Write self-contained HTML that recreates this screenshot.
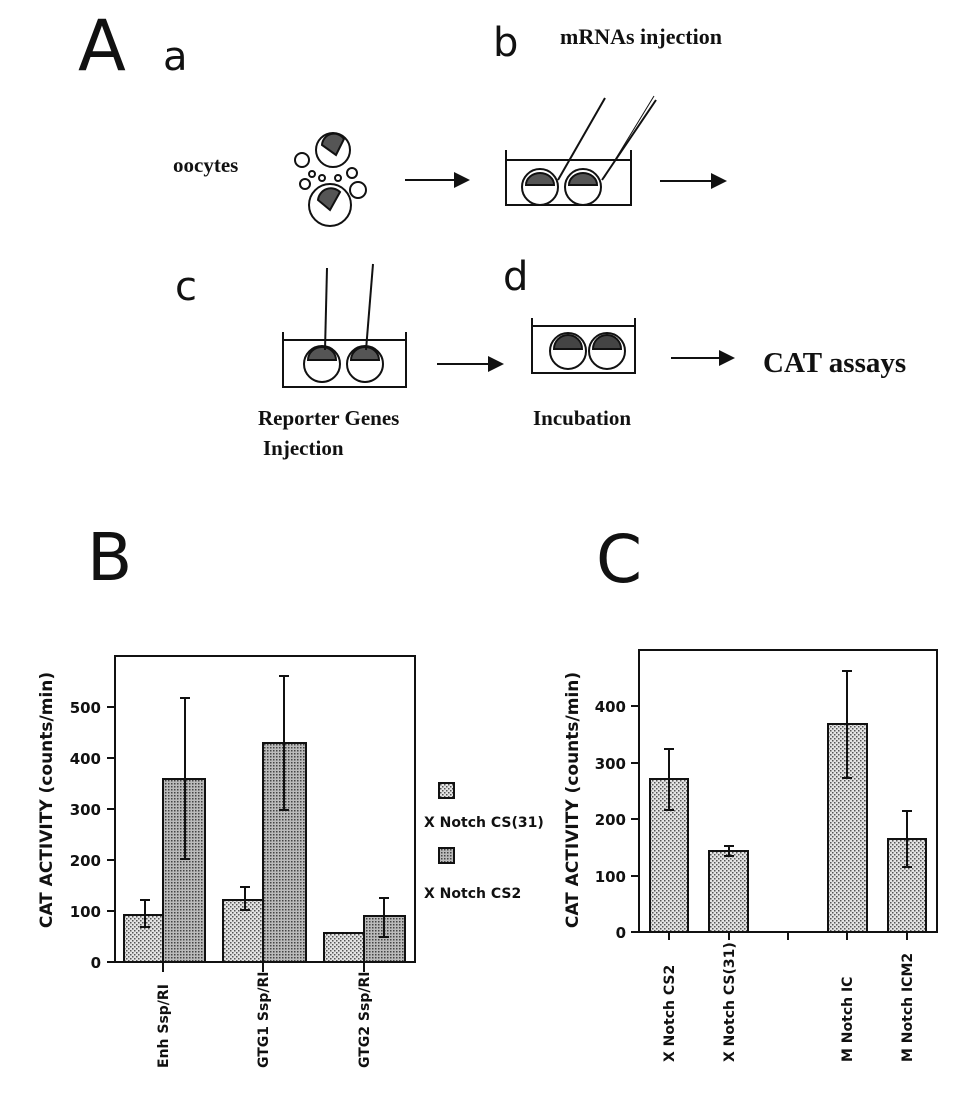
<!DOCTYPE html>
<html><head><meta charset="utf-8"><style>
html,body{margin:0;padding:0;background:#fff}
svg{display:block}
.s{font-family:"Liberation Serif",serif;font-weight:bold}
.l{font-family:"DejaVu Sans","Liberation Sans",sans-serif}
</style></head><body>
<svg width="961" height="1120" viewBox="0 0 961 1120" xmlns="http://www.w3.org/2000/svg">
<defs>
<pattern id="p1" width="4" height="4" patternUnits="userSpaceOnUse"><rect width="4" height="4" fill="#e4e4e4"/><rect x="0" y="0" width="1.5" height="1.5" fill="#555"/><rect x="2" y="2" width="1.5" height="1.5" fill="#555"/></pattern>
<pattern id="p2" width="3" height="3" patternUnits="userSpaceOnUse"><rect width="3" height="3" fill="#bbb"/><rect x="0" y="0" width="1.5" height="1.5" fill="#444"/></pattern>
<marker id="ar" markerWidth="8" markerHeight="8" refX="7" refY="4" orient="auto"><path d="M0,0 L8,4 L0,8z" fill="#111"/></marker>
</defs>
<g fill="#111">
<text x="78" y="70" class="l" font-size="70">A</text>
<text x="163" y="70" class="l" font-size="40">a</text>
<text x="493" y="56" class="l" font-size="40">b</text>
<text x="175" y="300" class="l" font-size="40">c</text>
<text x="503" y="290" class="l" font-size="40">d</text>
<text x="87" y="580" class="l" font-size="66">B</text>
<text x="596" y="582" class="l" font-size="66">C</text>
<text x="560" y="44" class="s" font-size="22">mRNAs injection</text>
<text x="173" y="172" class="s" font-size="21">oocytes</text>
<text x="763" y="372" class="s" font-size="29">CAT assays</text>
<text x="258" y="425" class="s" font-size="21">Reporter Genes</text>
<text x="263" y="455" class="s" font-size="21">Injection</text>
<text x="533" y="425" class="s" font-size="21">Incubation</text>
</g>
<g stroke="#111" stroke-width="2" fill="none">
<circle cx="333" cy="150" r="17"/><circle cx="330" cy="205" r="21"/>
<circle cx="302" cy="160" r="7"/><circle cx="358" cy="190" r="8"/><circle cx="352" cy="173" r="5"/>
<circle cx="312" cy="174" r="3"/><circle cx="322" cy="178" r="3"/><circle cx="338" cy="178" r="3"/><circle cx="305" cy="184" r="5"/>
<path d="M322,145 a12,12 0 0 1 22,-6 l-8,16z" fill="#555"/><path d="M318,200 a13,13 0 0 1 22,-8 l-10,18z" fill="#555"/>
<line x1="405" y1="180" x2="468" y2="180" marker-end="url(#ar)"/>
<path d="M506,150 v55 h125 v-55"/><line x1="506" y1="160" x2="631" y2="160"/>
<circle cx="540" cy="187" r="18"/><circle cx="583" cy="187" r="18"/>
<path d="M526,185 a14,12 0 0 1 28,0z" fill="#555"/><path d="M569,185 a14,12 0 0 1 28,0z" fill="#555"/>
<line x1="605" y1="98" x2="558" y2="180"/><line x1="656" y1="100" x2="602" y2="180"/><line x1="654" y1="96" x2="604" y2="178" stroke-width="1"/>
<line x1="660" y1="181" x2="725" y2="181" marker-end="url(#ar)"/>
<path d="M283,332 v55 h123 v-55"/><line x1="283" y1="340" x2="406" y2="340"/>
<circle cx="322" cy="364" r="18"/><circle cx="365" cy="364" r="18"/>
<path d="M308,360 a14,13 0 0 1 28,0z" fill="#555"/><path d="M351,360 a14,13 0 0 1 28,0z" fill="#555"/>
<line x1="327" y1="268" x2="325" y2="350"/><line x1="373" y1="264" x2="366" y2="350"/>
<line x1="437" y1="364" x2="502" y2="364" marker-end="url(#ar)"/>
<path d="M532,318 v55 h103 v-55"/><line x1="532" y1="326" x2="635" y2="326"/>
<circle cx="568" cy="351" r="18"/><circle cx="607" cy="351" r="18"/>
<path d="M554,349 a14,14 0 0 1 28,0z" fill="#444"/><path d="M593,349 a14,14 0 0 1 28,0z" fill="#444"/>
<line x1="671" y1="358" x2="733" y2="358" marker-end="url(#ar)"/>
</g>
<g stroke="#111" stroke-width="2">
<rect x="115" y="656" width="300" height="306" fill="none"/>
<g fill="url(#p1)"><rect x="124" y="915" width="39" height="47"/><rect x="223" y="900" width="40" height="62"/><rect x="324" y="933" width="40" height="29"/></g>
<g fill="url(#p2)"><rect x="163" y="779" width="42" height="183"/><rect x="263" y="743" width="43" height="219"/><rect x="364" y="916" width="41" height="46"/></g>
<g fill="none">
<path d="M145,900 V927 M140,900 h10 M140,927 h10"/>
<path d="M185,698 V859 M180,698 h10 M180,859 h10"/>
<path d="M245,887 V910 M240,887 h10 M240,910 h10"/>
<path d="M284,676 V810 M279,676 h10 M279,810 h10"/>
<path d="M384,898 V937 M379,898 h10 M379,937 h10"/>
<path d="M107,962 h8 M107,911 h8 M107,860 h8 M107,809 h8 M107,758 h8 M107,707 h8"/>
<path d="M163,962 v10 M263,962 v10 M364,962 v10"/>
</g>
<rect x="439" y="783" width="15" height="15" fill="url(#p1)"/>
<rect x="439" y="848" width="15" height="15" fill="url(#p2)"/>
</g>
<g class="l" font-size="15" font-weight="bold" fill="#111" text-anchor="end">
<text x="101" y="968">0</text><text x="101" y="917">100</text><text x="101" y="866">200</text><text x="101" y="815">300</text><text x="101" y="764">400</text><text x="101" y="713">500</text>
</g>
<text transform="translate(52,800) rotate(-90)" class="l" font-size="17" font-weight="bold" text-anchor="middle" fill="#111">CAT ACTIVITY (counts/min)</text>
<g class="l" font-size="14" font-weight="bold" fill="#111">
<text transform="translate(168,1068) rotate(-90)">Enh Ssp/RI</text>
<text transform="translate(268,1068) rotate(-90)">GTG1 Ssp/RI</text>
<text transform="translate(369,1068) rotate(-90)">GTG2 Ssp/RI</text>
<text x="424" y="827" font-size="14">X Notch CS(31)</text>
<text x="424" y="898" font-size="14">X Notch CS2</text>
</g>
<g stroke="#111" stroke-width="2">
<rect x="639" y="650" width="298" height="282" fill="none"/>
<g fill="url(#p1)"><rect x="650" y="779" width="38" height="153"/><rect x="709" y="851" width="39" height="81"/><rect x="828" y="724" width="39" height="208"/><rect x="888" y="839" width="38" height="93"/></g>
<g fill="none">
<path d="M669,749 V810 M664,749 h10 M664,810 h10"/>
<path d="M729,846 V856 M724,846 h10 M724,856 h10"/>
<path d="M847,671 V778 M842,671 h10 M842,778 h10"/>
<path d="M907,811 V867 M902,811 h10 M902,867 h10"/>
<path d="M631,932 h8 M631,876 h8 M631,819 h8 M631,763 h8 M631,706 h8"/>
<path d="M669,932 v8 M729,932 v8 M788,932 v8 M847,932 v8 M907,932 v8"/>
</g>
</g>
<g class="l" font-size="15" font-weight="bold" fill="#111" text-anchor="end">
<text x="626" y="938">0</text><text x="626" y="882">100</text><text x="626" y="825">200</text><text x="626" y="769">300</text><text x="626" y="712">400</text>
</g>
<text transform="translate(578,800) rotate(-90)" class="l" font-size="17" font-weight="bold" text-anchor="middle" fill="#111">CAT ACTIVITY (counts/min)</text>
<g class="l" font-size="14" font-weight="bold" fill="#111">
<text transform="translate(674,1062) rotate(-90)">X Notch CS2</text>
<text transform="translate(734,1062) rotate(-90)">X Notch CS(31)</text>
<text transform="translate(852,1062) rotate(-90)">M Notch IC</text>
<text transform="translate(912,1062) rotate(-90)">M Notch ICM2</text>
</g>
</svg>
</body></html>
